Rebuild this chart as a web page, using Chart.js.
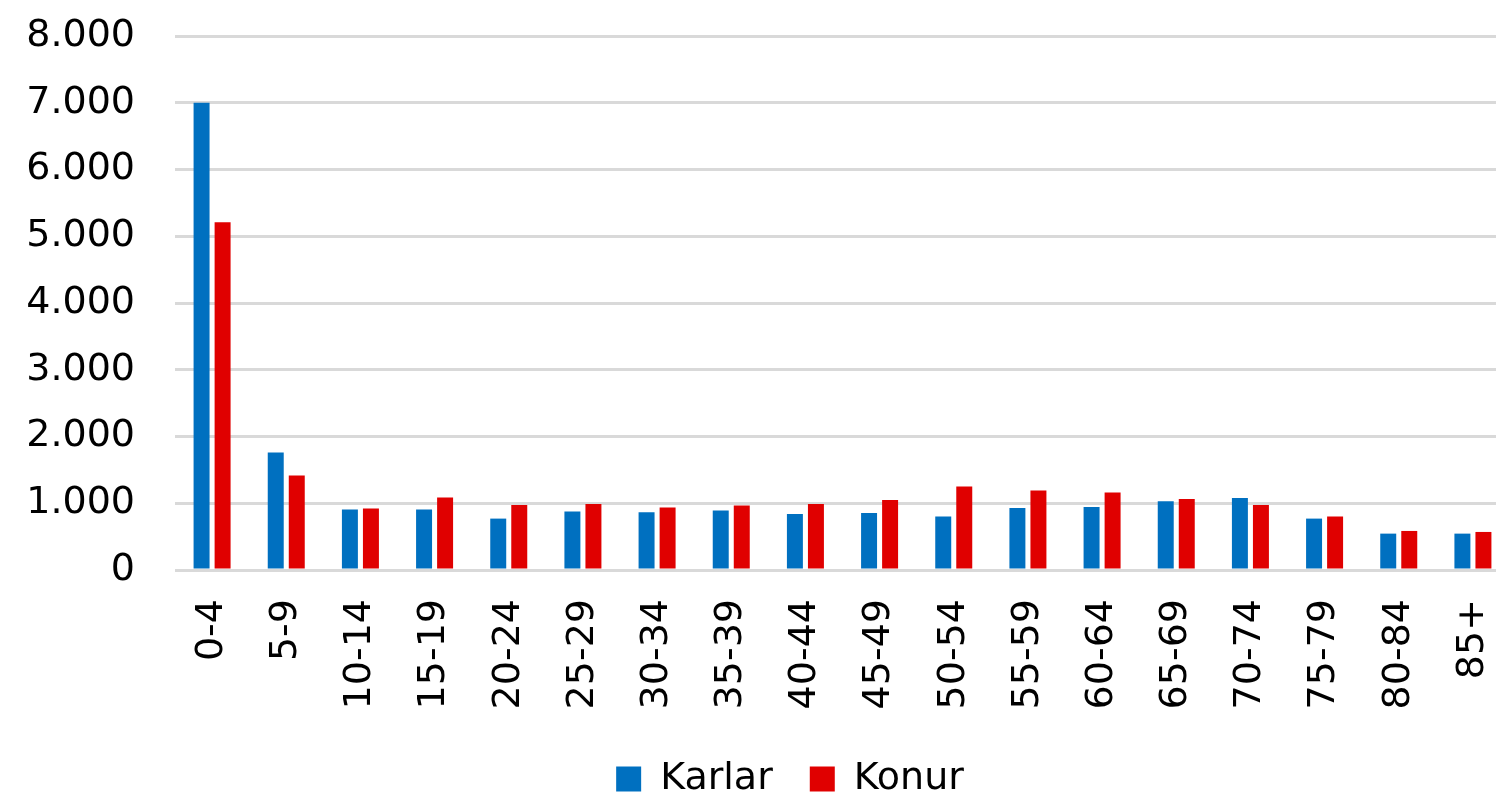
<!DOCTYPE html>
<html>
<head>
<meta charset="utf-8">
<script src="https://cdn.jsdelivr.net/npm/chart.js@4.4.1/dist/chart.umd.min.js"></script>
<style>
  html, body { margin: 0; padding: 0; background: #fff; }
  #wrap { width: 1496px; height: 796px; }
</style>
</head>
<body>
<div id="wrap"><canvas id="popChart"></canvas></div>
<script>
// Aldurshópar
const ageGroups = ['0-4', '5-9', '10-14', '15-19', '20-24', '25-29', '30-34', '35-39', '40-44',
    '45-49', '50-54', '55-59', '60-64', '65-69', '70-74', '75-79', '80-84', '85+'];

const karlar = [7000, 1760, 905, 905, 770, 875, 865, 890, 840, 855, 800, 930, 945, 1030, 1080, 770, 545, 545];
const konur = [5210, 1415, 920, 1085, 975, 990, 935, 965, 990, 1050, 1250, 1190, 1160, 1065, 975, 800, 585, 570];

const yTicks = [0, 1000, 2000, 3000, 4000, 5000, 6000, 7000, 8000];

function fmt(v) {
    return String(v).replace(/\B(?=(\d{3})+(?!\d))/g, '.');
}

// pin the plot area where the original has it (it runs a bit past the right edge)
const fixedArea = {
    id: 'fixedArea',
    afterLayout: function(chart) {
        const left = 175, top = 36, right = 1510, bottom = 570;
        const area = chart.chartArea;
        area.left = left; area.top = top; area.right = right; area.bottom = bottom;
        area.width = right - left; area.height = bottom - top;

        const x = chart.scales.x;
        const h = x.bottom - x.top;
        x.left = left; x.right = right; x.width = right - left;
        x.top = bottom; x.bottom = bottom + h;
        x.configure();

        const y = chart.scales.y;
        y.left = 0; y.right = left; y.width = left;
        y.top = top; y.bottom = bottom; y.height = bottom - top;
        y.configure();

        chart.legend.left += 42;
        chart.legend.right += 42;
    }
};

const ctx = document.getElementById('popChart');
const popChart = new Chart(ctx, {
    type: 'bar',
    data: {
        labels: ageGroups,
        datasets: [{
            label: 'Karlar',
            data: karlar,
            backgroundColor: '#0070C0',
            barPercentage: 0.76,
            categoryPercentage: 0.567
        }, {
            label: 'Konur',
            data: konur,
            backgroundColor: '#E00000',
            barPercentage: 0.76,
            categoryPercentage: 0.567
        }]
    },
    plugins: [fixedArea],
    options: {
        responsive: true,
        maintainAspectRatio: false,
        animation: false,
        layout: {
            padding: { top: 0, right: 0, left: 0, bottom: -12 }
        },
        plugins: {
            legend: {
                position: 'bottom',
                labels: {
                    boxWidth: 25,
                    boxHeight: 25,
                    padding: 37,
                    color: '#000',
                    font: { family: 'DejaVu Sans', size: 38 }
                }
            },
            tooltip: { enabled: false }
        },
        scales: {
            x: {
                afterFit: function(axis) { axis.height = 145; },
                grid: { display: false, drawTicks: false },
                border: { display: false },
                ticks: {
                    color: '#000',
                    minRotation: 90,
                    maxRotation: 90,
                    padding: 29,
                    font: { family: 'DejaVu Sans', size: 38 }
                }
            },
            y: {
                min: 0,
                max: 8000,
                afterFit: function(axis) { axis.width = 175; },
                afterBuildTicks: function(axis) {
                    axis.ticks = yTicks.map(function(v) { return { value: v }; });
                },
                grid: { color: '#d9d9d9', lineWidth: 3, drawTicks: false },
                border: { display: false },
                ticks: {
                    color: '#000',
                    padding: 40,
                    font: { family: 'DejaVu Sans', size: 38 },
                    callback: function(v) { return fmt(v); }
                }
            }
        }
    }
});
</script>
</body>
</html>
